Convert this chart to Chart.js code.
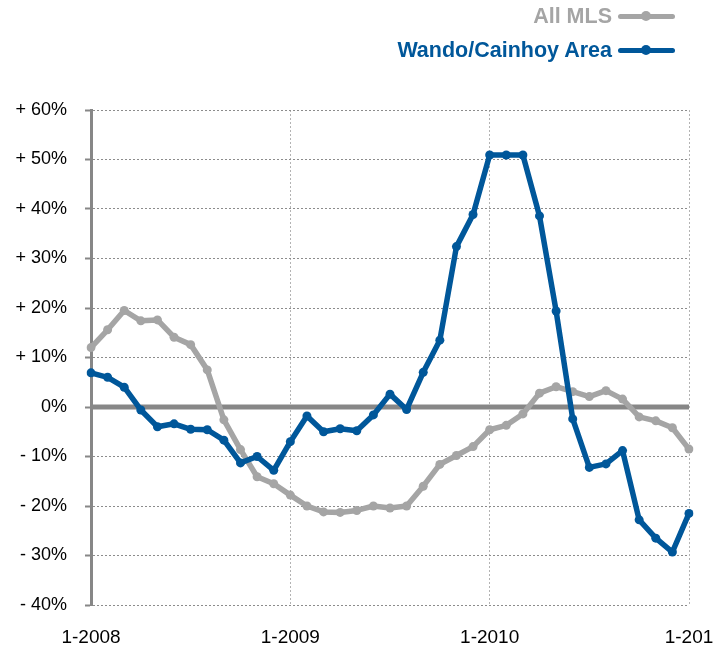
<!DOCTYPE html>
<html>
<head>
<meta charset="utf-8">
<script src="https://cdn.jsdelivr.net/npm/chart.js@4.4.0/dist/chart.umd.min.js"></script>
<style>
html,body{margin:0;padding:0;background:#fff;}
#wrap{position:relative;width:719px;height:646px;overflow:hidden;}
#legend{position:absolute;right:44px;top:0;width:400px;height:70px;font-family:"Liberation Sans",Arial,Helvetica,sans-serif;font-weight:bold;font-size:21.5px;}
.row{position:absolute;right:0;display:flex;align-items:center;justify-content:flex-end;height:24px;line-height:24px;white-space:nowrap;}
.sw{width:57px;height:5px;border-radius:3px;margin-left:6px;position:relative;}
.sw i{position:absolute;left:23px;top:-2.5px;width:10px;height:10px;border-radius:50%;}
</style>
</head>
<body>
<div id="wrap">
<canvas id="c" width="719" height="646"></canvas>
<div id="legend"></div>
</div>
<script>
// ---- data ----
const categories = [
 '1-2008','2-2008','3-2008','4-2008','5-2008','6-2008','7-2008','8-2008','9-2008','10-2008','11-2008','12-2008',
 '1-2009','2-2009','3-2009','4-2009','5-2009','6-2009','7-2009','8-2009','9-2009','10-2009','11-2009','12-2009',
 '1-2010','2-2010','3-2010','4-2010','5-2010','6-2010','7-2010','8-2010','9-2010','10-2010','11-2010','12-2010',
 '1-2011'
];
const allMls = [
 12.0, 15.6, 19.5, 17.4, 17.6, 14.1, 12.6, 7.5, -2.6, -8.6, -14.1, -15.5,
 -17.8, -20.0, -21.2, -21.3, -20.9, -20.0, -20.4, -20.0, -16.0, -11.6, -9.8, -8.0,
 -4.6, -3.7, -1.4, 2.8, 4.1, 3.1, 2.1, 3.3, 1.6, -2.0, -2.8, -4.2,
 -8.5
];
const wandoCainhoy = [
 6.9, 6.0, 4.0, -0.6, -4.0, -3.4, -4.5, -4.6, -6.7, -11.3, -10.0, -12.8,
 -7.0, -1.8, -5.0, -4.4, -4.8, -1.6, 2.6, -0.5, 7.0, 13.5, 32.4, 38.9,
 50.9, 50.9, 50.9, 38.6, 19.4, -2.4, -12.2, -11.5, -8.8, -22.8, -26.5, -29.3,
 -21.5
];
const seriesNames = ['All MLS', 'Wando/Cainhoy Area'];
const xTickLabels = ['1-2008', '1-2009', '1-2010', '1-201'];
const yTickValues = [-40, -30, -20, -10, 0, 10, 20, 30, 40, 50, 60];
const yTickLabels = ['- 40%', '- 30%', '- 20%', '- 10%', '0%', '+ 10%', '+ 20%', '+ 30%', '+ 40%', '+ 50%', '+ 60%'];

// ---- style ----
const GRAY = '#a5a5a5';
const BLUE = '#00579a';
const AXIS = '#878787';
const FONT = '"Liberation Sans", Arial, Helvetica, sans-serif';

function xLabelFor(cat) {
  const t = xTickLabels.find(l => cat.startsWith(l));
  return t || '';
}

const zeroLine = {
  id: 'zeroLine',
  beforeDatasetsDraw(chart) {
    const {ctx, chartArea: a, scales: {y}} = chart;
    const py = y.getPixelForValue(0);
    ctx.save();
    ctx.strokeStyle = AXIS;
    ctx.lineWidth = 5;
    ctx.beginPath();
    ctx.moveTo(a.left, py);
    ctx.lineTo(a.right, py);
    ctx.stroke();
    ctx.restore();
  }
};

const chart = new Chart(document.getElementById('c'), {
  type: 'line',
  data: {
    labels: categories,
    datasets: [
      {
        label: seriesNames[1], data: wandoCainhoy, order: 0,
        borderColor: BLUE, backgroundColor: BLUE, pointBackgroundColor: BLUE,
        borderWidth: 5.5, pointRadius: 4.5, pointBorderWidth: 0, pointHoverRadius: 4.5,
        tension: 0, borderJoinStyle: 'round', borderCapStyle: 'round', fill: false
      },
      {
        label: seriesNames[0], data: allMls, order: 1,
        borderColor: GRAY, backgroundColor: GRAY, pointBackgroundColor: GRAY,
        borderWidth: 5.5, pointRadius: 4.5, pointBorderWidth: 0, pointHoverRadius: 4.5,
        tension: 0, borderJoinStyle: 'round', borderCapStyle: 'round', fill: false
      }
    ]
  },
  options: {
    responsive: false,
    animation: false,
    devicePixelRatio: 1,
    layout: {padding: {top: 110, right: 30, bottom: 0, left: 0}},
    plugins: {legend: {display: false}, tooltip: {enabled: false}},
    scales: {
      x: {
        type: 'category',
        offset: false,
        grid: {
          drawTicks: true,
          tickLength: 21,
          tickColor: 'rgba(0,0,0,0)',
          lineWidth: 1,
          color: c => (c.tick && c.tick.label) ? '#b3b3b3' : 'rgba(0,0,0,0)'
        },
        border: {display: false, dash: [2, 2]},
        ticks: {
          autoSkip: false, maxRotation: 0, minRotation: 0, padding: 0,
          color: '#000', font: {family: FONT, size: 19},
          callback: function (v) { return xLabelFor(this.getLabelForValue(v)); }
        },
        afterFit(s) { s.height = 41; }
      },
      y: {
        min: -40, max: 60,
        grid: {
          color: '#8c8c8c', lineWidth: 1, tickLength: 6,
          tickColor: AXIS, tickWidth: 2, tickBorderDash: []
        },
        border: {display: true, color: AXIS, width: 3, dash: [2, 2]},
        ticks: {
          stepSize: 10, padding: 18, color: '#000',
          font: {family: FONT, size: 18},
          callback: v => { const i = yTickValues.indexOf(v); return i >= 0 ? yTickLabels[i] : ''; }
        },
        afterFit(s) { s.width = 91; }
      }
    }
  },
  plugins: [zeroLine]
});

// ---- legend (HTML, from dataset definitions) ----
const legend = document.getElementById('legend');
const legendOrder = [1, 0]; // All MLS first row, Wando second row
const rowCenters = [16, 50];
legendOrder.forEach((di, r) => {
  const ds = chart.data.datasets[di];
  const row = document.createElement('div');
  row.className = 'row';
  row.style.top = (rowCenters[r] - 12) + 'px';
  row.style.color = ds.borderColor;
  const txt = document.createElement('span');
  txt.textContent = ds.label;
  const sw = document.createElement('div');
  sw.className = 'sw';
  sw.style.background = ds.borderColor;
  const dot = document.createElement('i');
  dot.style.background = ds.borderColor;
  sw.appendChild(dot);
  row.appendChild(txt);
  row.appendChild(sw);
  legend.appendChild(row);
});
</script>
</body>
</html>
